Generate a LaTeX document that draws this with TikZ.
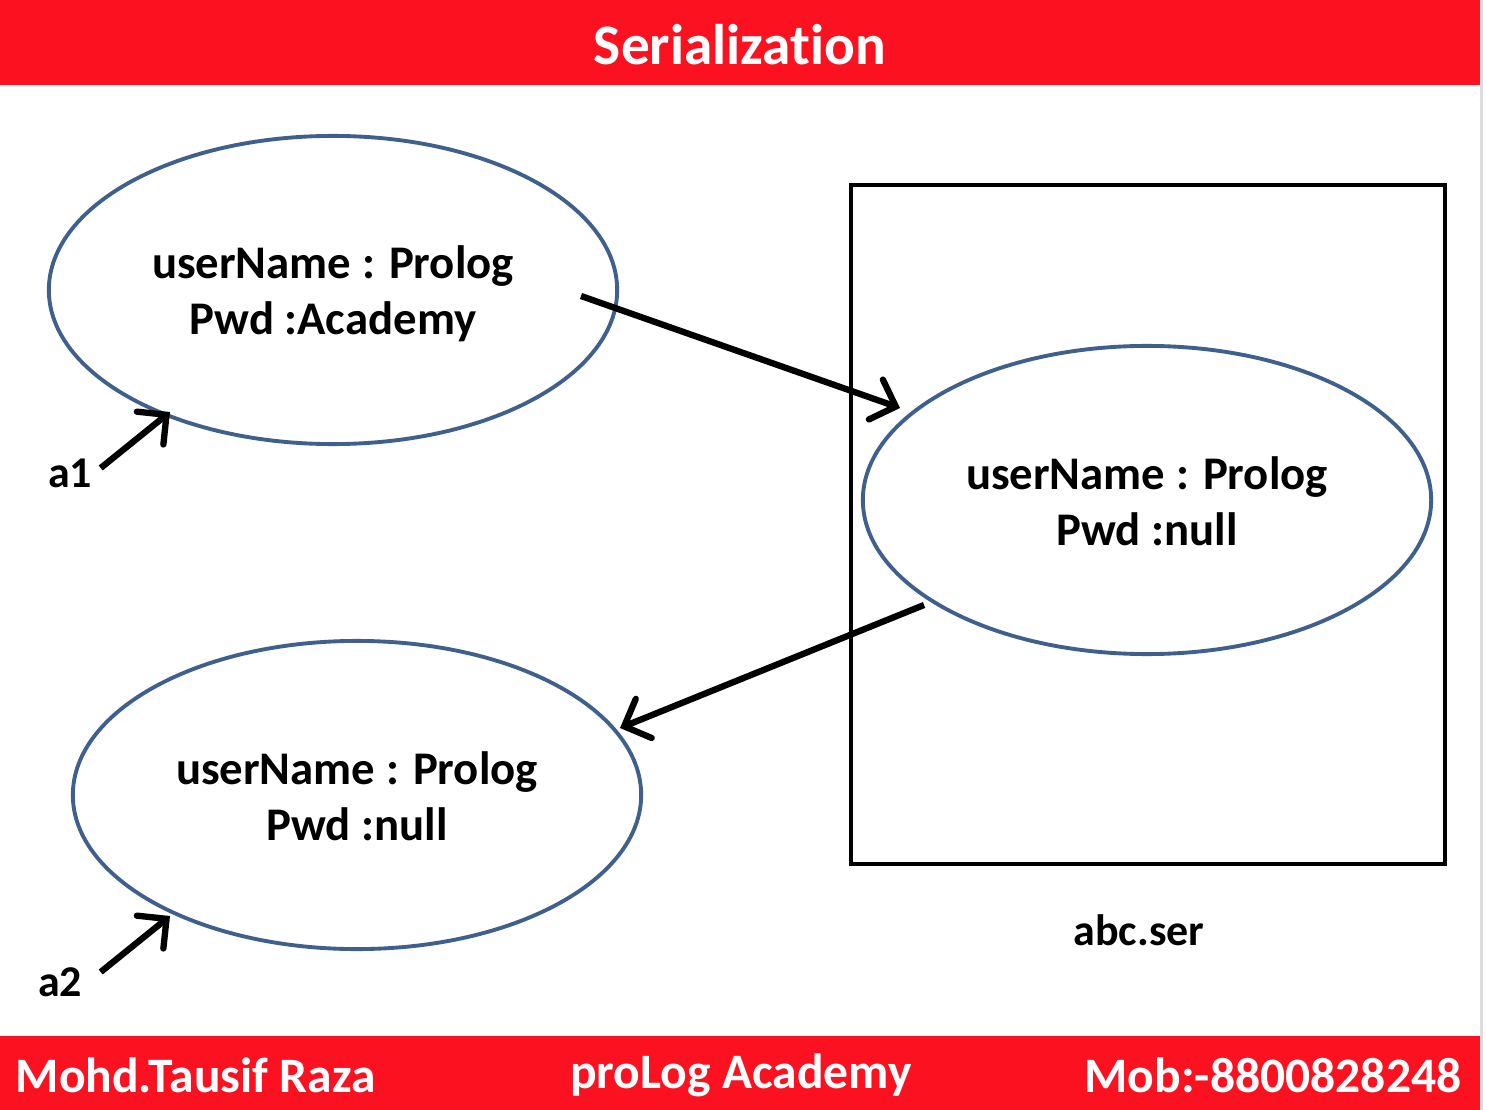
\documentclass[tikz,border=0pt]{standalone}
\usepackage{fontspec}
\setmainfont{Carlito}[Ligatures={NoCommon}]
\usetikzlibrary{shapes.geometric,arrows.meta,calc}
\definecolor{barred}{HTML}{FC1120}
\definecolor{ellblue}{HTML}{3F5F8C}
\definecolor{edgegray}{HTML}{DDDDDD}
\tikzset{
  objell/.style={ellipse, draw=ellblue, line width=1.1pt, minimum width=5.68cm, minimum height=3.08cm, inner sep=0pt},
  objtext/.style={align=center, inner sep=0pt, font=\fontsize{13.3pt}{15.9pt}\selectfont\bfseries},
  bartext/.style={text=white, font=\fontsize{14.1pt}{16pt}\selectfont\bfseries, inner sep=0pt},
  lbl/.style={font=\fontsize{12.5pt}{14pt}\selectfont\bfseries, inner sep=0pt},
  thickarrow/.style={line width=1.8pt, -{Straight Barb[length=6pt, width=12pt, line width=1.8pt, line cap=round]}},
}
\begin{document}
\begin{tikzpicture}[x=0.01cm, y=-0.01cm]
\useasboundingbox (0,0) rectangle (1486,1110);
\fill[white] (0,0) rectangle (1486,1110);
% bars
\fill[barred] (0,0) rectangle (1480,85);
\fill[barred] (0,1036) rectangle (1480,1110);
\fill[edgegray] (1480,0) rectangle (1483,1110);
\node[bartext, font=\fontsize{16.3pt}{19pt}\selectfont\bfseries] (title) at (740,45) {Serialization};
\node[bartext, anchor=west] (author) at (15,1075) {Mohd.Tausif Raza};
\node[bartext] (academy) at (741,1075) {proLog Academy};
\node[bartext, anchor=east] (mob) at (1462,1075) {Mob:-8800828248};
% file box
\node[draw=black, line width=1.1pt, minimum width=5.94cm, minimum height=6.79cm, inner sep=0pt] (file) at (1148,524.5) {};
\node[lbl] (fname) at (1139,930) {abc.ser};
% ellipses
\node[objell] (e1) at (333,290) {};
\node[objell] (e2) at (1147,500) {};
\node[objell] (e3) at (357,795) {};
\node[objtext] (t1txt) at ($(e1.center)+(0,4)$) {userName : Prolog\\Pwd :Academy};
\node[objtext] (t2txt) at ($(e2.center)+(0,1)$) {userName : Prolog\\Pwd :null};
\node[objtext] (t3txt) at ($(e3.center)+(0,1)$) {userName : Prolog\\Pwd :null};
% reference labels
\node[lbl] (a1) at (70,473) {a1};
\node[lbl] (a2) at (60,982) {a2};
% connector end points
\coordinate (s1) at ($(e1.center)+(248,6)$);
\coordinate (t1) at ($(e2.center)+(-247,-92)$);
\coordinate (s2) at ($(e2.center)+(-223,105)$);
\coordinate (t2) at ($(e3.center)+(263,-67)$);
\coordinate (a1s) at ($(a1.east)+(8,-5)$);
\coordinate (a1t) at ($(e1.center)+(-163,122)$);
\coordinate (a2s) at ($(a2.east)+(18,-10)$);
\coordinate (a2t) at ($(e3.center)+(-187,121)$);
\draw[thickarrow] (s1) -- (t1);
\draw[thickarrow] (s2) -- (t2);
\draw[thickarrow] (a1s) -- (a1t);
\draw[thickarrow] (a2s) -- (a2t);
\end{tikzpicture}
\end{document}
